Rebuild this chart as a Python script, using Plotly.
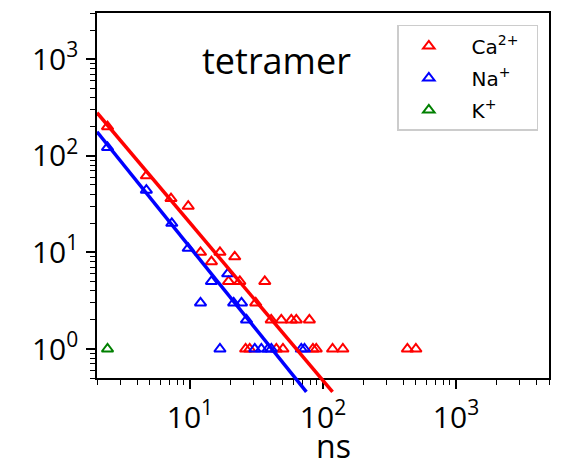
import numpy as np
import plotly.graph_objects as go

# ---------------- data ----------------
ca_x = [2.4, 4.7, 7.2, 9.7, 12.0, 16.8, 14.5, 21.7, 19.5, 23.7, 36.5, 31.2,
        40.8, 48.6, 57.8, 63.0, 79.0,
        26.2, 28.1, 44.6, 50.0, 84.0, 89.0, 118, 141, 431, 499]
ca_y = [200, 62, 36, 30, 10, 10, 8, 9, 5, 5, 5, 3,
        2, 2, 2, 2, 2,
        1, 1, 1, 1, 1, 1, 1, 1, 1, 1]

na_x = [2.4, 4.7, 7.3, 9.7, 14.5, 19.2, 12.0, 21.3, 24.4, 26.6,
        16.8, 30.7, 34.4, 38.6, 40.9, 68.7, 72.6]
na_y = [122, 44, 20, 11, 5, 6, 3, 3, 3, 2,
        1, 1, 1, 1, 1, 1, 1]

k_x = [2.4]
k_y = [1]

ca_fit_x = [2.0, 118]
ca_fit_y = [279, 0.36]
na_fit_x = [2.0, 75]
na_fit_y = [177, 0.36]

major_vals = [1, 10, 100, 1000]
major_text = ["10<sup>0</sup>", "10<sup>1</sup>", "10<sup>2</sup>", "10<sup>3</sup>"]

series_names = ["Ca<sup>2+</sup>", "Na<sup>+</sup>", "K<sup>+</sup>"]

x_lim = [2, 5000]
y_lim = [0.5, 3000]

# ---------------- layout geometry ----------------
W, H = 562, 470
ml, mr, mt, mb = 97, 12, 11, 75
plot_bottom_px = 378          # where the x axis sits
area_w = W - ml - mr
area_h = H - mt - mb
y_dom0 = (H - mb - plot_bottom_px) / area_h

ylo, yhi = np.log10(y_lim[0]), np.log10(y_lim[1])
px_per_dec = (plot_bottom_px - mt) / (yhi - ylo)
ylo2 = ylo - (H - mb - plot_bottom_px) / px_per_dec

minor_vals = [m * 10 ** e for e in range(-1, 4) for m in range(2, 10)]

RED, BLUE, GREEN = "#ff0000", "#0000ff", "#008000"
NB = "\u00a0"

fig = go.Figure()

# fitted lines on an invisible, taller subplot so they run past the x axis
fig.add_trace(go.Scatter(x=ca_fit_x, y=ca_fit_y, mode="lines",
                         line=dict(color=RED, width=3.5), showlegend=False,
                         xaxis="x2", yaxis="y2", hoverinfo="skip"))
fig.add_trace(go.Scatter(x=na_fit_x, y=na_fit_y, mode="lines",
                         line=dict(color=BLUE, width=3.5), showlegend=False,
                         xaxis="x2", yaxis="y2", hoverinfo="skip"))

mk = dict(symbol="triangle-up-open", size=10, line=dict(width=2))
for xs, ys, nm, col, grp in [(ca_x, ca_y, series_names[0] + NB * 2, RED, "a"),
                             (na_x, na_y, series_names[1], BLUE, "b"),
                             (k_x, k_y, series_names[2], GREEN, "c")]:
    fig.add_trace(go.Scatter(x=xs, y=ys, mode="markers", name=NB * 2 + nm,
                             legendgroup=grp, marker=dict(color=col, **mk)))

axis_common = dict(
    type="log", showgrid=False, zeroline=False,
    showline=True, linecolor="black", linewidth=1.5, mirror=True,
    ticks="outside", ticklen=9, tickwidth=2, tickcolor="black",
    tickmode="array", tickvals=major_vals, ticktext=major_text,
    tickfont=dict(family="Open Sans", size=30, color="black"),
    minor=dict(tickmode="array", tickvals=minor_vals, ticks="outside",
               ticklen=5, tickwidth=1.2, tickcolor="black", showgrid=False),
)

fig.update_layout(
    width=W, height=H,
    margin=dict(l=ml, r=mr, t=mt, b=mb, pad=0),
    paper_bgcolor="white", plot_bgcolor="rgba(0,0,0,0)",
    xaxis=dict(domain=[0, 1], anchor="y", ticklabelstandoff=3,
               range=[np.log10(x_lim[0]), np.log10(x_lim[1])], **axis_common),
    yaxis=dict(domain=[y_dom0, 1], anchor="x", ticklabelstandoff=2,
               range=[ylo, yhi], **axis_common),
    xaxis2=dict(domain=[0, 1], anchor="y2", type="log",
                range=[np.log10(x_lim[0]), np.log10(x_lim[1])], visible=False),
    yaxis2=dict(domain=[0, 1], anchor="x2", type="log",
                range=[ylo2, yhi], visible=False),
    legend=dict(x=(398 - ml) / area_w, y=(H - mb - 23) / area_h,
                xanchor="left", yanchor="top",
                bgcolor="white", bordercolor="#cccccc", borderwidth=1.5,
                font=dict(family="DejaVu Sans", size=20, color="black"),
                itemwidth=50, tracegroupgap=3),
    showlegend=True,
    annotations=[
        dict(text="tetramer", xref="paper", yref="paper",
             x=(277 - ml) / area_w, y=(H - mb - 59) / area_h,
             xanchor="center", yanchor="middle", showarrow=False,
             font=dict(family="Open Sans", size=36, color="black")),
        dict(text="ns", xref="paper", yref="paper",
             x=(334 - ml) / area_w, y=(H - mb - 469) / area_h,
             xanchor="center", yanchor="bottom", showarrow=False,
             font=dict(family="Open Sans", size=32, color="black")),
    ],
)

fig.write_html("out.html")
